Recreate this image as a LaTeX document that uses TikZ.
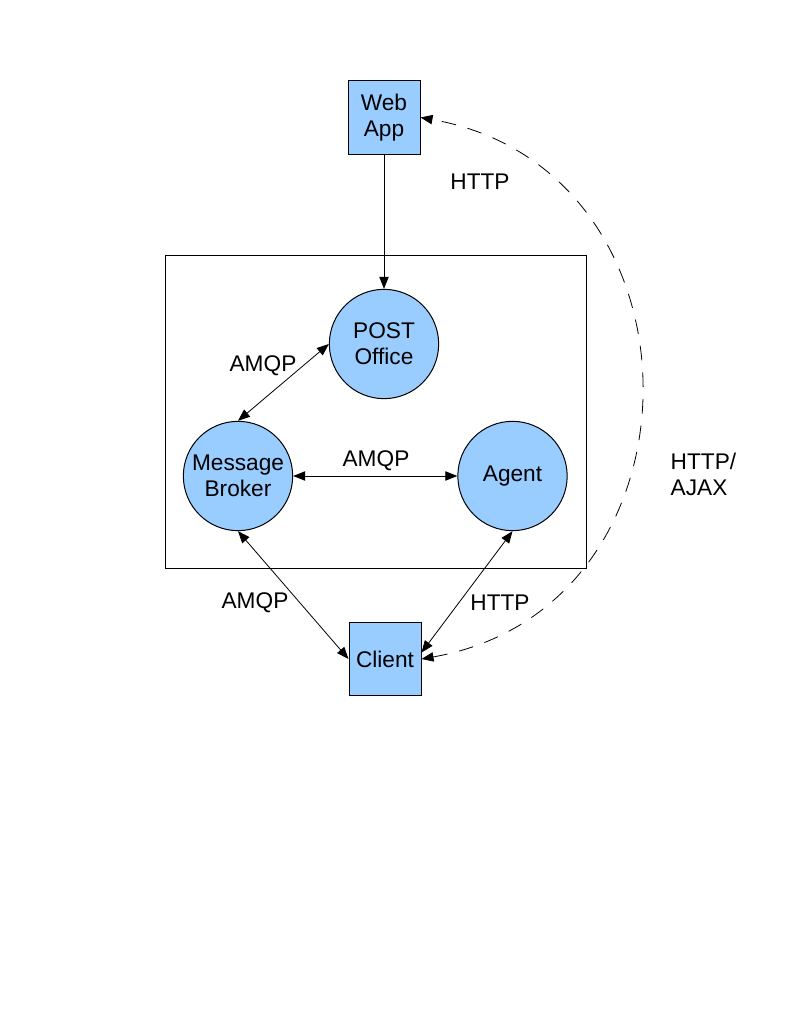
\documentclass[tikz,border=0pt]{standalone}
\usepackage{fontspec}
\setmainfont{Liberation Sans}
\usetikzlibrary{arrows.meta}
\definecolor{nodeblue}{HTML}{99CCFF}

\begin{document}
\begin{tikzpicture}[x=0.75pt, y=0.75pt,
    every node/.style={font=\fontsize{17}{19.5}\selectfont},
    boxnode/.style={draw, line width=0.75pt, fill=nodeblue, inner sep=0pt,
                    minimum width=54pt, minimum height=55pt, align=center},
    circnode/.style={draw, line width=0.75pt, fill=nodeblue, circle, inner sep=0pt,
                     minimum size=82pt, align=center},
    link/.style={line width=0.6pt, -{Triangle[length=9pt,width=7pt]}},
    duplex/.style={link, {Triangle[length=9pt,width=7pt]}-{Triangle[length=9pt,width=7pt]}}]
  \useasboundingbox (0,0) rectangle (791,-1023);

  % outer frame
  \draw[line width=0.75pt] (165,-256) rectangle (586,-568);

  % nodes
  \node[boxnode]  (webapp)     at (384,-117.5) {Web\\App};
  \node[circnode] (postoffice) at (384,-344)   {POST\\Office};
  \node[circnode] (broker)     at (238,-476)   {Message\\Broker};
  \node[circnode] (agent)      at (512.5,-476) {Agent};
  \node[boxnode]  (client)     at (385,-659)   {Client};

  % connectors
  \draw[link]   (webapp.south) -- (postoffice.north);
  \draw[duplex] (broker.north) -- (postoffice.west);
  \draw[duplex] (broker.east)  -- (agent.west);
  \draw[duplex] (broker.south) -- (client.west);
  \draw[duplex] (agent.south)  -- (client.10);
  \draw[duplex, dash pattern=on 11pt off 9pt]
    (client.east) to[out=10, in=-10, looseness=1.4] (webapp.east);

  % labels
  \node (lhttptop)  at (480,-182) {HTTP};
  \node (lamqppo)   at (263,-366) {AMQP};
  \node (lamqpmid)  at (376,-461) {AMQP};
  \node (lamqpcl)   at (255,-603) {AMQP};
  \node (lhttpcl)   at (500,-603) {HTTP};
  \node[align=left, anchor=west] (lajax) at (666,-474) {HTTP/\\AJAX};
\end{tikzpicture}
\end{document}
